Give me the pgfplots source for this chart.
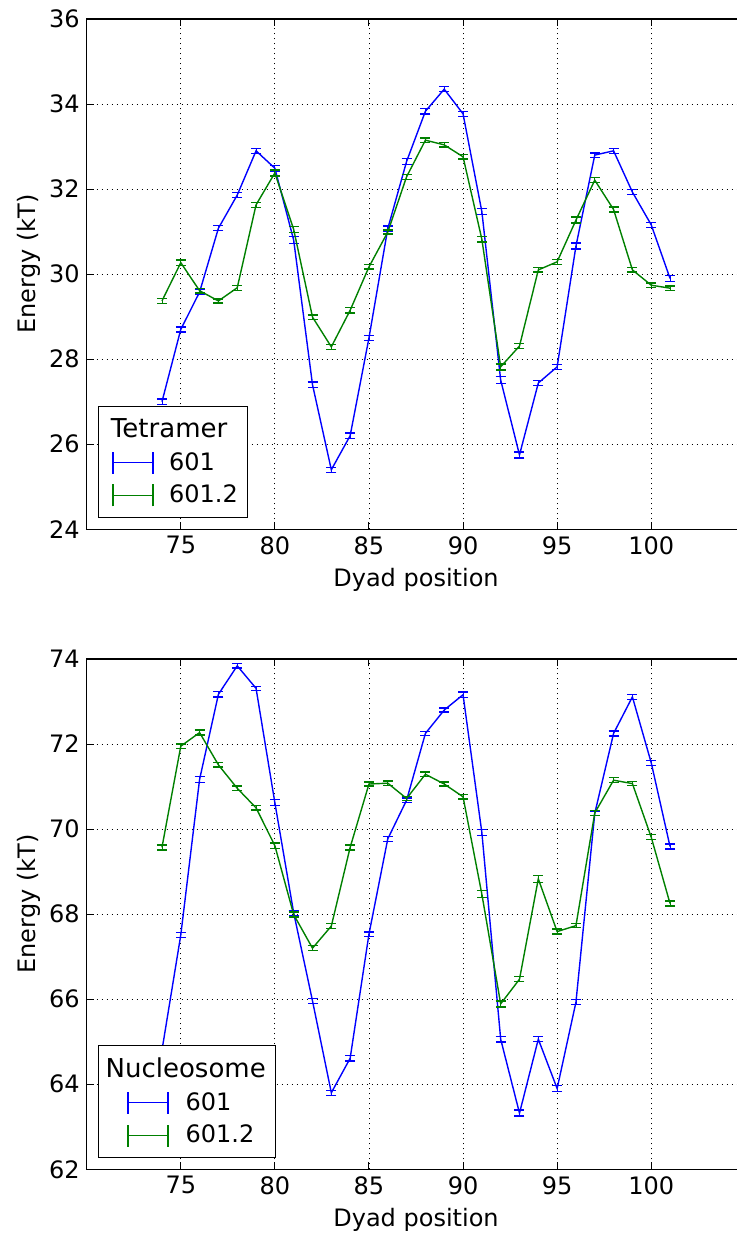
\documentclass[border=0pt]{standalone}
\usepackage{fontspec}
\setmainfont{DejaVu Sans}
\usepackage{pgfplots}
\pgfplotsset{compat=1.18}

\definecolor{mblue}{rgb}{0,0,1}
\definecolor{mgreen}{rgb}{0,0.5,0}
\newcommand{\legtitle}[1]{\setbox0\hbox{\fontsize{13}{15}\selectfont #1}\hspace*{-0.5\wd0}\box0}

\pgfplotsset{
 mystyle/.style={
  scale only axis, width=329.3pt, height=255.15pt,
  xmin=70, xmax=105, xtick={75,80,...,100},
  grid=major, grid style={black, line width=0.4pt, dash pattern=on 0.6pt off 1.9pt},
  axis line style={line width=0.6pt},
  tick align=inside, major tick length=3.5pt, tick style={black, line width=0.5pt},
  ticklabel style={font=\fontsize{12}{14}\selectfont},
  label style={font=\fontsize{12}{14}\selectfont},
  /pgf/number format/assume math mode=true,
  xlabel={Dyad position}, ylabel={Energy (kT)},
  ylabel style={at={(ticklabel cs:0.52,-2.5pt)}},
  legend cell align=left,
  legend style={at={(rel axis cs:0,0)}, anchor=south west, xshift=5.8pt, yshift=5.5pt,
    font=\fontsize{12}{14}\selectfont, draw=black, line width=0.6pt,
    inner xsep=3pt, inner ysep=3.9pt, row sep=2pt},
 },
 ebar/.style={line width=0.7pt, mark=none,
   /pgfplots/error bars/y dir=both, /pgfplots/error bars/y explicit,
   /pgfplots/error bars/error mark=-,
   /pgfplots/error bars/error mark options={line width=0.7pt, mark size=2.5pt, rotate=90}},
 ebarlegend/.style 2 args={legend image code/.code={
   \path (-#1,0pt) (#2,0pt);
   \draw[line width=0.7pt] (0pt,0pt) -- (20pt,0pt);
   \draw[line width=0.7pt] (0pt,-5.5pt) -- (0pt,5.5pt);
   \draw[line width=0.7pt] (20pt,-5.5pt) -- (20pt,5.5pt);
 }},
}

\begin{document}
\begin{tikzpicture}
\begin{axis}[mystyle, ymin=24, ymax=36, ytick={24,26,...,36}]
\addlegendimage{empty legend}
\addlegendentry{\legtitle{Tetramer}}
\addplot[mblue, ebarlegend={3.7pt}{25.7pt}, ebar] table[x=x, y=y, y error=e] {
x y e
74 27.0 0.06
75 28.7 0.06
76 29.58 0.06
77 31.08 0.06
78 31.86 0.06
79 32.9 0.06
80 32.49 0.06
81 30.8 0.08
82 27.4 0.06
83 25.4 0.06
84 26.2 0.06
85 28.5 0.06
86 31.07 0.06
87 32.65 0.07
88 33.83 0.06
89 34.35 0.06
90 33.77 0.06
91 31.47 0.07
92 27.51 0.08
93 25.75 0.07
94 27.44 0.06
95 27.82 0.06
96 30.66 0.07
97 32.8 0.05
98 32.9 0.06
99 31.93 0.06
100 31.16 0.06
101 29.9 0.07
};
\addlegendentry{601}
\addplot[mgreen, ebarlegend={3.7pt}{25.7pt}, ebar] table[x=x, y=y, y error=e] {
x y e
74 29.37 0.06
75 30.27 0.06
76 29.61 0.05
77 29.37 0.05
78 29.68 0.06
79 31.63 0.06
80 32.38 0.07
81 31.05 0.07
82 28.99 0.05
83 28.29 0.06
84 29.15 0.06
85 30.17 0.05
86 30.99 0.05
87 32.29 0.06
88 33.15 0.05
89 33.04 0.05
90 32.76 0.05
91 30.82 0.06
92 27.82 0.07
93 28.31 0.06
94 30.1 0.05
95 30.29 0.06
96 31.27 0.07
97 32.21 0.06
98 31.52 0.06
99 30.1 0.05
100 29.74 0.05
101 29.67 0.05
};
\addlegendentry{601.2}
\end{axis}

\begin{axis}[mystyle, at={(0,-320pt)}, ymin=62, ymax=74, ytick={62,64,...,74}]
\addlegendimage{empty legend}
\addlegendentry{\legtitle{Nucleosome}}
\addplot[mblue, ebarlegend={11.2pt}{26.5pt}, ebar] table[x=x, y=y, y error=e] {
x y e
74 64.8 0.06
75 67.51 0.06
76 71.17 0.07
77 73.17 0.06
78 73.84 0.05
79 73.31 0.05
80 70.62 0.07
81 68.03 0.06
82 65.96 0.06
83 63.8 0.06
84 64.61 0.06
85 67.53 0.05
86 69.77 0.06
87 70.68 0.05
88 72.25 0.05
89 72.8 0.05
90 73.16 0.06
91 69.92 0.07
92 65.06 0.07
93 63.32 0.07
94 65.06 0.06
95 63.9 0.07
96 65.93 0.06
97 70.37 0.05
98 72.25 0.06
99 73.11 0.06
100 71.56 0.06
101 69.59 0.06
};
\addlegendentry{601}
\addplot[mgreen, ebarlegend={11.2pt}{26.5pt}, ebar] table[x=x, y=y, y error=e] {
x y e
74 69.57 0.06
75 71.95 0.05
76 72.27 0.06
77 71.51 0.05
78 70.96 0.05
79 70.5 0.05
80 69.61 0.06
81 67.99 0.06
82 67.2 0.06
83 67.72 0.06
84 69.57 0.06
85 71.06 0.05
86 71.08 0.05
87 70.72 0.05
88 71.29 0.05
89 71.06 0.05
90 70.76 0.05
91 68.47 0.08
92 65.89 0.07
93 66.47 0.06
94 68.83 0.08
95 67.59 0.06
96 67.73 0.05
97 70.38 0.06
98 71.15 0.06
99 71.07 0.05
100 69.81 0.06
101 68.25 0.06
};
\addlegendentry{601.2}
\end{axis}
\pgfresetboundingbox
\useasboundingbox (-43.35pt,-353.35pt) rectangle (324.65pt,264.65pt);
\end{tikzpicture}
\end{document}
